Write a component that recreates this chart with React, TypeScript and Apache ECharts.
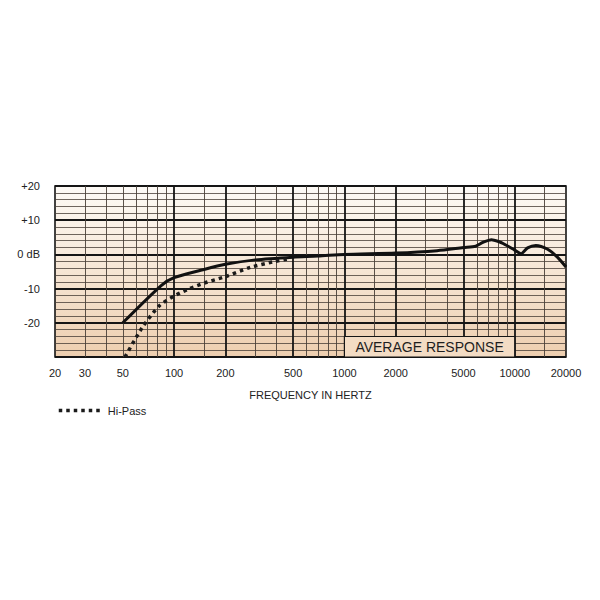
import React, { useEffect, useRef } from "react";
import * as echarts from "echarts";

// Frequency axis labels (Hz)
const xTickLabels = [20, 30, 50, 100, 200, 500, 1000, 2000, 5000, 10000, 20000];
// Heavy and light vertical rulings (Hz)
const majorFreqs = [100, 200, 500, 1000, 2000, 5000, 10000];
const minorFreqs = [30, 40, 50, 60, 70, 80, 90, 150, 300, 400, 600, 700, 800, 900, 1500, 3000, 4000, 6000, 7000, 8000, 9000, 15000];

// Average response curve
const responseFreq = [50, 84, 100, 150, 200, 300, 500, 700, 1000, 2000, 3500, 5000, 5900, 6500, 7300, 8100, 8600, 9900, 10900, 11900, 13300, 15600, 17800, 20000];
const responseDb = [-20, -9.1, -6.8, -4.4, -2.9, -1.6, -0.8, -0.5, 0, 0.4, 1.1, 2.0, 2.4, 3.5, 4.3, 3.7, 3.1, 1.4, 0.2, 1.9, 2.6, 1.5, -0.8, -3.7];

// Hi-Pass curve
const hiPassFreq = [51.5, 65, 82, 100, 122, 150, 200, 280, 380, 470];
const hiPassDb = [-30, -21.4, -15, -12.2, -10.1, -8.4, -6.5, -3.8, -2.2, -1.3];

const FONT = "'Liberation Sans', Arial, Helvetica, sans-serif";
const INK = "#1a1a1a";
const TEXT = "#222222";

export default function App() {
  const ref = useRef<HTMLDivElement>(null);

  useEffect(() => {
    if (!ref.current) return;
    const chart = echarts.init(ref.current, null, { renderer: "svg" });

    const pair = (xs: number[], ys: number[]) => xs.map((x, i) => [x, ys[i]]);

    chart.setOption({
      animation: false,
      backgroundColor: "#ffffff",
      color: [INK],
      textStyle: { fontFamily: FONT },
      grid: {
        left: 55,
        right: 34,
        top: 186,
        bottom: 243,
        show: true,
        borderColor: "#151515",
        borderWidth: 1.6,
        backgroundColor: new echarts.graphic.LinearGradient(0, 0, 0, 1, [
          { offset: 0, color: "#fdfaf6" },
          { offset: 0.45, color: "#f7e8d8" },
          { offset: 1, color: "#edceaf" },
        ]),
      },
      legend: {
        data: ["Hi-Pass"],
        left: 57,
        top: 405,
        padding: 0,
        itemWidth: 44,
        itemHeight: 12,
        itemGap: 5,
        textStyle: { fontFamily: FONT, fontSize: 11, color: TEXT },
        itemStyle: { opacity: 0 },
        lineStyle: { width: 3.5, type: [3.5, 4], color: INK, cap: "butt" },
      },
      xAxis: {
        type: "log",
        logBase: 10,
        min: 20,
        max: 20000,
        name: "FREQUENCY IN HERTZ",
        nameLocation: "middle",
        nameGap: 32,
        nameTextStyle: { fontFamily: FONT, fontSize: 11, color: TEXT },
        axisLine: { show: false },
        axisTick: { show: false },
        axisLabel: { show: false },
        splitLine: { show: false },
      },
      yAxis: {
        type: "value",
        min: -30,
        max: 20,
        interval: 10,
        axisLine: { show: false },
        axisTick: { show: false },
        axisLabel: {
          margin: 15,
          fontFamily: FONT,
          fontSize: 11,
          color: TEXT,
          formatter: (v: number) =>
            v === -30 ? "" : v > 0 ? "+" + v : v === 0 ? "0 dB" : String(v),
        },
        splitLine: { show: true, lineStyle: { color: "#151515", width: 1.8 } },
        minorTick: { show: false, splitNumber: 5 },
        minorSplitLine: { show: true, lineStyle: { color: "#4a4038", width: 0.8 } },
      },
      series: [
        {
          name: "minor-rulings",
          type: "line",
          data: [],
          silent: true,
          markLine: {
            silent: true,
            z: 3,
            symbol: "none",
            label: { show: false },
            lineStyle: { color: "#4a4038", width: 0.9, type: "solid" },
            data: minorFreqs.map((f) => ({ xAxis: f })),
          },
        },
        {
          name: "major-rulings",
          type: "line",
          data: [],
          silent: true,
          markLine: {
            silent: true,
            z: 4,
            symbol: "none",
            label: { show: false },
            lineStyle: { color: "#151515", width: 1.8, type: "solid" },
            data: majorFreqs.map((f) => ({ xAxis: f })),
          },
        },
        {
          name: "average-box",
          type: "line",
          data: [],
          silent: true,
          markArea: {
            silent: true,
            z: 6,
            itemStyle: { color: "#f3dcc4", opacity: 1, borderColor: "#151515", borderWidth: 1.2 },
            label: {
              show: true,
              position: "inside",
              formatter: "AVERAGE RESPONSE",
              fontFamily: FONT,
              fontSize: 14,
              color: "#1e1e1e",
              textBorderWidth: 0,
            },
            data: [[{ coord: [1000, -24] }, { coord: [10000, -30] }]],
          },
        },
        {
          // frequency tick labels placed through the log axis
          name: "freq-labels",
          type: "custom",
          data: xTickLabels.map((f) => [f, -30]),
          silent: true,
          clip: false,
          z: 3,
          renderItem: (_params: any, api: any) => {
            const f = api.value(0);
            const pt = api.coord([f, api.value(1)]);
            return {
              type: "text",
              x: pt[0],
              y: pt[1] + 10,
              style: {
                text: String(f),
                fill: TEXT,
                font: `11px ${FONT}`,
                align: "center",
                verticalAlign: "top",
              },
            };
          },
        },
        {
          name: "Response",
          type: "line",
          data: pair(responseFreq, responseDb),
          showSymbol: false,
          symbol: "none",
          smooth: 0.25,
          z: 7,
          itemStyle: { color: INK },
          lineStyle: { color: "#111", width: 3, join: "round" },
        },
        {
          name: "Hi-Pass",
          type: "line",
          data: pair(hiPassFreq, hiPassDb),
          showSymbol: false,
          symbol: "none",
          smooth: 0.25,
          z: 7,
          itemStyle: { color: INK },
          lineStyle: { color: INK, width: 3.5, type: [3.5, 4], cap: "butt" },
        },
      ],
    });

    return () => chart.dispose();
  }, []);

  return (
    <div
      ref={ref}
      style={{ position: "absolute", left: 0, top: 0, width: 600, height: 600 }}
    />
  );
}
